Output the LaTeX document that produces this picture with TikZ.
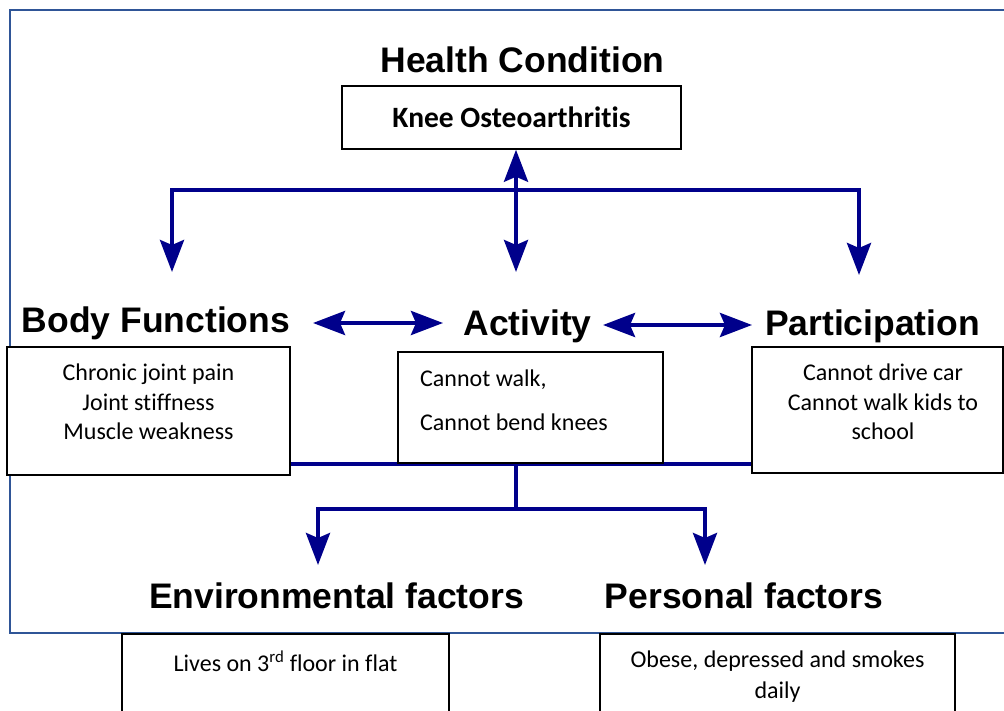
\documentclass[tikz,border=0pt]{standalone}
\usepackage{fontspec}
\setmainfont{Carlito}[Ligatures=NoCommon]
\newfontfamily\headfont{Liberation Sans}
\usetikzlibrary{arrows.meta,backgrounds}
\definecolor{linkblue}{RGB}{0,0,139}
\definecolor{framecol}{RGB}{47,85,151}

\begin{document}
\begin{tikzpicture}[x=1pt,y=-1pt,
  heading/.style={font=\headfont\bfseries\fontsize{35.5}{40}\selectfont, inner sep=0pt, anchor=base},
  infobox/.style={draw=black, line width=1.5pt, fill=white, inner sep=0pt},
  boxtext/.style={font=\fontsize{24}{29.3}\selectfont, inner sep=0pt, align=center, anchor=north},
  link/.style={draw=linkblue, line width=4pt},
  onehead/.style={-{Stealth[length=32pt,width=24pt,inset=5pt]}},
  twoheads/.style={{Stealth[length=32pt,width=24pt,inset=5pt]}-{Stealth[length=32pt,width=24pt,inset=5pt]}}
]
\useasboundingbox (0,0) rectangle (1004,711);

% headings
\node[heading] (hctitle)   at (522.5,73)  {Health Condition};
\node[heading] (bftitle)   at (156,332)   {Body Functions};
\node[heading] (acttitle)  at (527.5,335) {Activity};
\node[heading] (parttitle) at (872.5,336) {Participation};
\node[heading] (envtitle)  at (336.5,608) {Environmental factors};
\node[heading] (perstitle) at (744,608)   {Personal factors};

% boxes
\node[infobox, minimum width=339pt, minimum height=63pt,
      font=\bfseries\fontsize{29.5}{34}\selectfont] (hcbox) at (511.5,117.5) {Knee Osteoarthritis};
\node[infobox, minimum width=283pt, minimum height=128pt] (bfbox)   at (148.5,411) {};
\node[infobox, minimum width=265pt, minimum height=111pt] (actbox)  at (530.5,407.5) {};
\node[infobox, minimum width=251pt, minimum height=126pt] (partbox) at (877.5,410) {};
\node[infobox, minimum width=327pt, minimum height=100pt] (envbox)  at (285.5,684) {};
\node[infobox, minimum width=355pt, minimum height=100pt] (persbox) at (777.5,684) {};

% box contents
\node[boxtext] (bftext) at (148.5,364) {Chronic joint pain\\Joint stiffness\\Muscle weakness};
\node[boxtext, align=left, anchor=north west] (acttext) at (420,370) {Cannot walk,\\[14.5pt]Cannot bend knees};
\node[boxtext] (parttext) at (883,364) {Cannot drive car\\Cannot walk kids to\\school};
\node[boxtext] (envtext) at (285.5,651) {Lives on 3\textsuperscript{rd} floor in flat};
\node[boxtext, font=\fontsize{24}{31}\selectfont] (perstext) at (777.5,651) {Obese, depressed and smokes\\daily};

% connector ends
\coordinate (hub)    at (516,190);
\coordinate (bfin)   at (172,272);
\coordinate (actin)  at (516,272);
\coordinate (partin) at (859,275);
\coordinate (bfright)  at (313,323);
\coordinate (actleft)  at (443,323);
\coordinate (actright) at (603,325);
\coordinate (partleft) at (752,325);
\coordinate (split)  at (516,509);
\coordinate (envin)  at (318,565);
\coordinate (persin) at (705,565);

\begin{scope}[on background layer]
  \draw[framecol, line width=1.8pt] (10,10) rectangle (1012,633);
  \draw[link] (bfbox.east |- actbox.south) -- (partbox.west |- actbox.south);
  \draw[link] (actbox.south -| split) -- (split);
\end{scope}

\draw[link, twoheads] (hcbox.south -| hub) -- (actin);
\draw[link, twoheads] (bfin) |- (hub) -| (partin);
\draw[link, twoheads] (bfright) -- (actleft);
\draw[link, twoheads] (actright) -- (partleft);
\draw[link, onehead] (split) -| (envin);
\draw[link, onehead] (split) -| (persin);
\end{tikzpicture}
\end{document}
